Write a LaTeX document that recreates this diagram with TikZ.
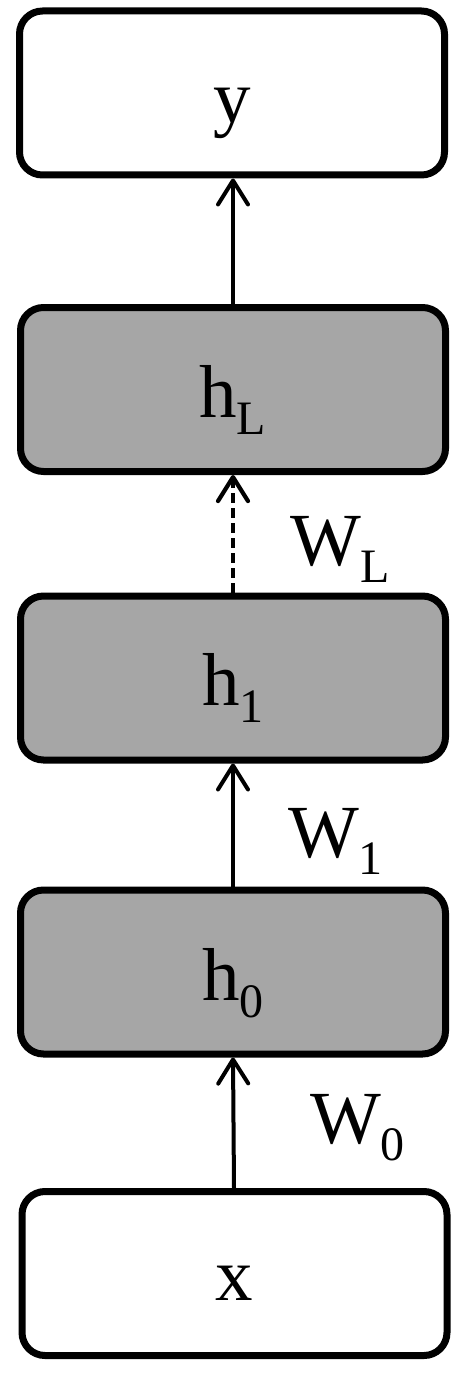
\documentclass[tikz,border=0pt]{standalone}
\usepackage{fontspec}
\setmainfont{Liberation Serif}
\usetikzlibrary{arrows.meta}
\definecolor{boxgray}{RGB}{166,166,166}
\newcommand{\mysub}[1]{\raisebox{-17pt}{\fontsize{48pt}{48pt}\selectfont #1}}
\begin{document}
\begin{tikzpicture}[x=1pt,y=-1pt,
  layerbox/.style={draw=black, line width=7pt, rounded corners=23pt, minimum width=425pt, minimum height=164pt, inner sep=0pt},
  whitebox/.style={layerbox, fill=white},
  graybox/.style={layerbox, fill=boxgray},
  lbl/.style={inner sep=0pt, font=\fontsize{75pt}{80pt}\selectfont},
  arr/.style={line width=4pt, -{Straight Barb[length=24pt, width=30pt, round]}},
  darr/.style={arr, line width=4.2pt, dash pattern=on 10pt off 5pt}]
\useasboundingbox (0,0) rectangle (473,1391);
\node[whitebox] (y) at (232,93) {};
\node[graybox] (hL) at (233,389.5) {};
\node[graybox] (h1) at (233,678) {};
\node[graybox] (h0) at (233,972) {};
\node[whitebox] (x) at (234.5,1273.5) {};
\node[lbl, anchor=base] (ty) at (232.5,123) {y};
\node[lbl, anchor=base west] (thL) at (199,417) {h\mysub{L}};
\node[lbl, anchor=base west] (th1) at (202,705) {h\mysub{1}};
\node[lbl, anchor=base west] (th0) at (202,1000) {h\mysub{0}};
\node[lbl, anchor=base] (tx) at (234.5,1300) {x};
\node[lbl, anchor=base west] (wL) at (290,565) {W\mysub{L}};
\node[lbl, anchor=base west] (w1) at (288,857) {W\mysub{1}};
\node[lbl, anchor=base west] (w0) at (310,1143) {W\mysub{0}};
\draw[arr] (hL.north -| 233,0) -- (y.south -| 233,0);
\draw[darr] (h1.north -| 233,0) -- (hL.south -| 233,0);
\draw[arr] (h0.north -| 233,0) -- (h1.south -| 233,0);
\draw[arr] (x.north -| 234,0) -- (h0.south -| 233,0);
\end{tikzpicture}
\end{document}
